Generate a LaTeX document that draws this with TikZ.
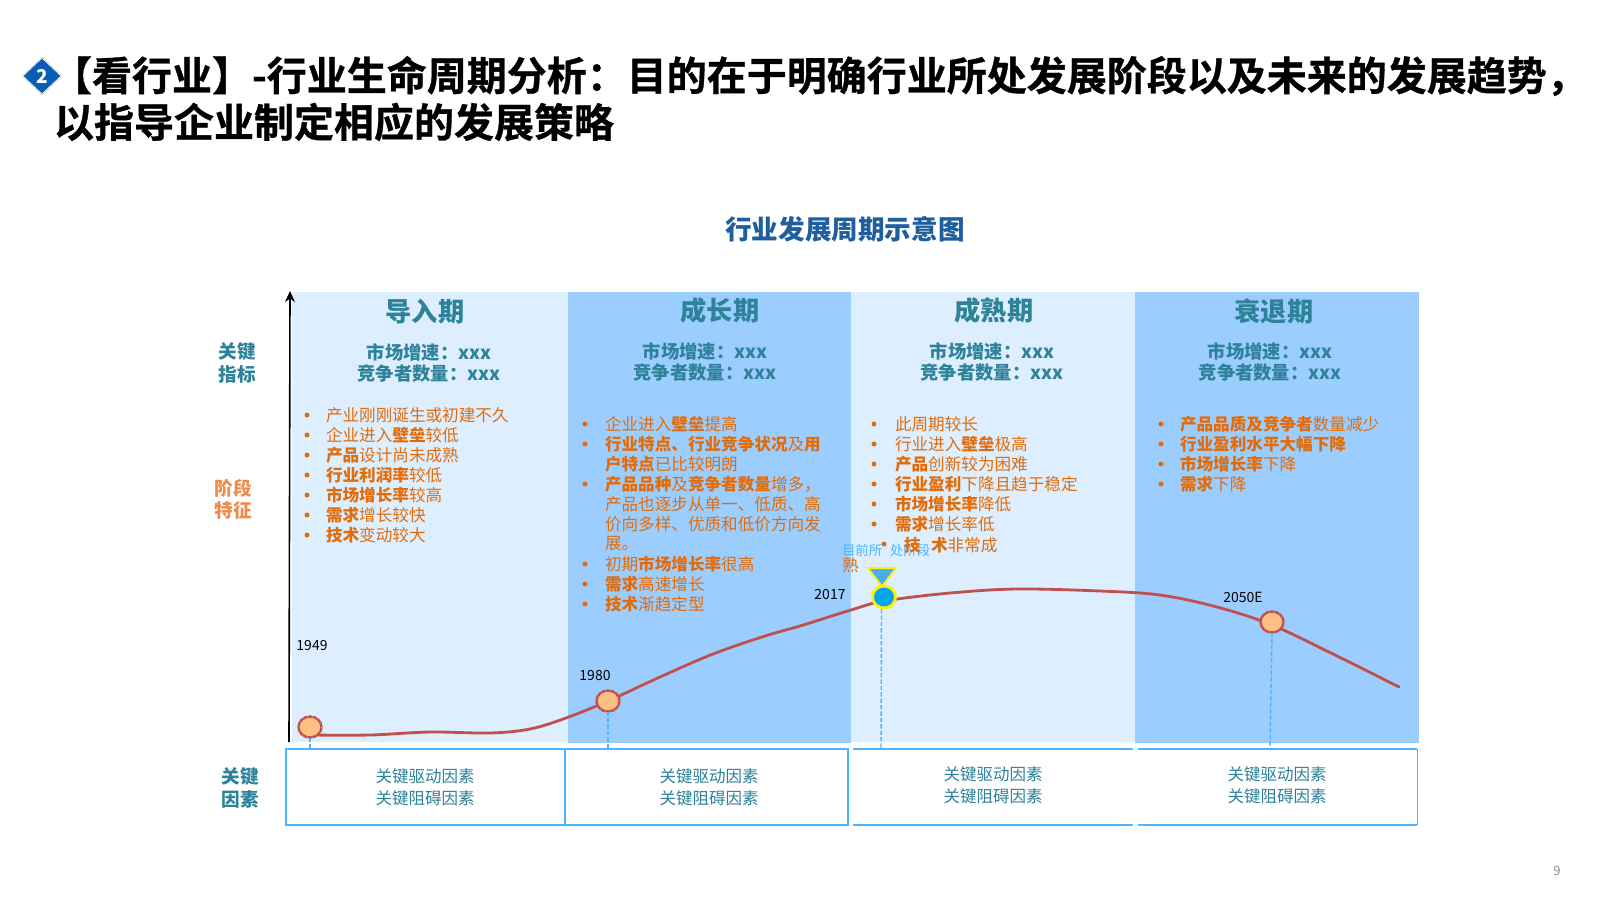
\documentclass[tikz,border=0pt]{standalone}
\usepackage{fontspec}
\setmainfont{Noto Sans CJK SC}
\newfontfamily\titlefont[FakeBold=0.8]{Noto Sans CJK SC Bold}
\usetikzlibrary{arrows.meta,shapes.geometric}
\definecolor{lightcol}{HTML}{DDEEFF}
\definecolor{darkcol}{HTML}{9BCDFF}
\definecolor{tealc}{HTML}{2E8299}
\definecolor{orangec}{HTML}{E36C0A}
\definecolor{labelor}{HTML}{F08A4B}
\definecolor{headblue}{HTML}{1F5F9E}
\definecolor{dmblue}{HTML}{0A5DB5}
\definecolor{linec}{HTML}{4DB5FF}
\definecolor{curvec}{HTML}{C0504D}
\definecolor{pt}{HTML}{FFC085}
\definecolor{nowblue}{HTML}{00A6F0}
\definecolor{triblue}{HTML}{47ADEF}
\newcommand{\hl}[1]{{\bfseries #1}}
\tikzset{
 every node/.style={inner sep=0pt,outer sep=0pt},
 ttl/.style={anchor=west,font=\titlefont\fontsize{20}{24}\selectfont,text=black},
 colhead/.style={font=\bfseries\fontsize{13.1}{15}\selectfont,text=tealc},
 metric/.style={font=\bfseries\fontsize{9.15}{11}\selectfont,text=tealc},
 sidelab/.style={font=\bfseries\fontsize{9.3}{11}\selectfont,text=tealc},
 bl/.style={anchor=west,font=\fontsize{8.3}{10}\selectfont,text=orangec},
 dot/.style={circle,fill=orangec,minimum size=2.5pt},
 boxtxt/.style={font=\fontsize{8.25}{10}\selectfont,text=tealc},
 yr/.style={font=\fontsize{7}{8}\selectfont,text=black},
 pnt/.style={ellipse,draw=curvec,line width=1.2pt,dash pattern=on 2.2pt off 0.25pt,fill=pt,minimum width=11.5pt,minimum height=10.5pt},
 frame/.style={draw=linec,line width=0.9pt},
 dropl/.style={draw=linec,line width=0.7pt,dash pattern=on 2.2pt off 1pt},
}
\begin{document}
\begin{tikzpicture}[x=0.5pt,y=-0.5pt]
\useasboundingbox[fill=white] (0,0) rectangle (1600,900);
% panels
\fill[lightcol] (292,292) rectangle (568,742);
\fill[darkcol] (568,292) rectangle (851,743);
\fill[lightcol] (851,292) rectangle (1135,742);
\fill[darkcol] (1135,292) rectangle (1419,743);
% axis
\coordinate (axb) at (289,742);
\coordinate (axt) at (290,291);
\draw[-{Stealth[length=5.5pt,width=5pt]},line width=0.8pt,black] (axb) -- (axt);
% title
\node[diamond,fill=black!25,minimum width=20pt,minimum height=19pt] (dms) at (42,76) {};
\node[diamond,fill=dmblue,draw=white,line width=0.3pt,minimum width=19pt,minimum height=18pt,text=white,font=\bfseries\fontsize{9.5}{10}\selectfont] (dm) at (42,76) {2};
\node[ttl] (t1) at (52,76) {【看行业】-行业生命周期分析：目的在于明确行业所处发展阶段以及未来的发展趋势，};
\node[ttl] (t2) at (54,122) {以指导企业制定相应的发展策略};
\node[font=\bfseries\fontsize{13.3}{16}\selectfont,text=headblue] (chart) at (845,229) {行业发展周期示意图};
% headers
\node[colhead] (h1) at (425,312) {导入期};
\node[colhead] (h2) at (720,311) {成长期};
\node[colhead] (h3) at (994,311) {成熟期};
\node[colhead] (h4) at (1274,311) {衰退期};
% metrics
\node[metric] (m11) at (429,352) {市场增速：xxx};
\node[metric] (m12) at (429,374) {竞争者数量：xxx};
\node[metric] (m21) at (705,351) {市场增速：xxx};
\node[metric] (m22) at (705,373) {竞争者数量：xxx};
\node[metric] (m31) at (992,351) {市场增速：xxx};
\node[metric] (m32) at (992,373) {竞争者数量：xxx};
\node[metric] (m41) at (1270,351) {市场增速：xxx};
\node[metric] (m42) at (1270,373) {竞争者数量：xxx};
% side labels
\node[sidelab] (s1) at (237,352) {关键};
\node[sidelab] (s2) at (237,374) {指标};
\node[sidelab,text=labelor] (s3) at (233,488) {阶段};
\node[sidelab,text=labelor] (s4) at (233,510) {特征};
\node[sidelab] (s5) at (240,777) {关键};
\node[sidelab] (s6) at (240,799) {因素};
% col 1 bullets
\foreach \y in {415,435,455,475,495,515,535} \node[dot] at (307,\y) {};
\node[bl] (a1) at (326,415) {产业刚刚诞生或初建不久};
\node[bl] (a2) at (326,435) {企业进入\hl{壁垒}较低};
\node[bl] (a3) at (326,455) {\hl{产品}设计尚未成熟};
\node[bl] (a4) at (326,475) {\hl{行业利润率}较低};
\node[bl] (a5) at (326,495) {\hl{市场增长率}较高};
\node[bl] (a6) at (326,515) {\hl{需求}增长较快};
\node[bl] (a7) at (326,535) {\hl{技术}变动较大};
% col 2 bullets
\foreach \y in {424,444,484,564,584,604} \node[dot] at (585,\y) {};
\node[bl] (b1) at (605,424) {企业进入\hl{壁垒}提高};
\node[bl] (b2) at (605,444) {\hl{行业特点、行业竞争状况}及\hl{用}};
\node[bl] (b3) at (605,464) {\hl{户特点}已比较明朗};
\node[bl] (b4) at (605,484) {\hl{产品品种}及\hl{竞争者数量}增多，};
\node[bl] (b5) at (605,504) {产品也逐步从单一、低质、高};
\node[bl] (b6) at (605,524) {价向多样、优质和低价方向发};
\node[bl] (b7) at (605,544) {展。};
\node[bl] (b8) at (605,564) {初期\hl{市场增长率}很高};
\node[bl] (b9) at (605,584) {\hl{需求}高速增长};
\node[bl] (b10) at (605,604) {\hl{技术}渐趋定型};
% col 3 bullets
\foreach \y in {424,444,464,484,504,524} \node[dot] at (874,\y) {};
\node[bl] (c1) at (895,424) {此周期较长};
\node[bl] (c2) at (895,444) {行业进入\hl{壁垒}极高};
\node[bl] (c3) at (895,464) {\hl{产品}创新较为困难};
\node[bl] (c4) at (895,484) {\hl{行业盈利}下降且趋于稳定};
\node[bl] (c5) at (895,504) {\hl{市场增长率}降低};
\node[bl] (c6) at (895,524) {\hl{需求}增长率低};
% current stage label
\node[anchor=west,font=\fontsize{6.7}{8}\selectfont,text=linec] (cur) at (842,550) {目前所};
\node[anchor=west,font=\fontsize{6.7}{8}\selectfont,text=linec] (cur2) at (890,550) {处阶段};
\node[dot] at (884,544) {};
\node[bl] (c7a) at (904,545) {\hl{技}};
\node[bl] (c7b) at (931,545) {\hl{术}非常成};
\node[bl] (c7c) at (842,565) {熟};
% col 4 bullets
\foreach \y in {424,444,464,484} \node[dot] at (1161,\y) {};
\node[bl] (d1) at (1180,424) {\hl{产品品质及竞争者}数量减少};
\node[bl] (d2) at (1180,444) {\hl{行业盈利水平大幅下降}};
\node[bl] (d3) at (1180,464) {\hl{市场增长率}下降};
\node[bl] (d4) at (1180,484) {\hl{需求}下降};
% key factor boxes
\node[minimum width=139.5pt,minimum height=38pt,anchor=north west] (k1) at (286,749) {};
\node[minimum width=141.5pt,minimum height=38pt,anchor=north west] (k2) at (565,749) {};
\node[minimum width=140pt,minimum height=38pt,anchor=north west] (k3) at (853,749) {};
\node[minimum width=139.5pt,minimum height=38pt,anchor=north west] (k4) at (1138,749) {};
\draw[frame] (k1.north west) rectangle (k1.south east);
\draw[frame] (k2.north west) rectangle (k2.south east);
\draw[frame] (k3.north west) -- (k3.north east) (k3.south west) -- (k3.south east);
\draw[frame] (k4.north west) -- (k4.north east) (k4.south west) -- (k4.south east);
\draw[draw=linec,line width=0.5pt] (k4.north east) -- (k4.south east);
\node[boxtxt] (f11) at (425,776) {关键驱动因素};
\node[boxtxt] (f12) at (425,798) {关键阻碍因素};
\node[boxtxt] (f21) at (709,776) {关键驱动因素};
\node[boxtxt] (f22) at (709,798) {关键阻碍因素};
\node[boxtxt] (f31) at (993,774) {关键驱动因素};
\node[boxtxt] (f32) at (993,796) {关键阻碍因素};
\node[boxtxt] (f41) at (1277,774) {关键驱动因素};
\node[boxtxt] (f42) at (1277,796) {关键阻碍因素};
% curve
\draw[curvec,line width=1.4pt,line cap=round] plot[smooth,tension=0.55] coordinates {(310,735) (370,735) (430,732) (490,733) (530,729) (566,718) (608,701) (660,677) (713,654) (765,636) (800,626) (851,610) (884,601) (950,593) (1017,589) (1100,591) (1160,595) (1217,607) (1272,625) (1335,655) (1399,687)};
% points
\node[pnt] (p1) at (310,727) {};
\node[pnt] (p2) at (608,701) {};
\node[pnt] (p4) at (1272,622) {};
\node[ellipse,draw=yellow,line width=1.4pt,fill=nowblue,minimum width=11.5pt,minimum height=11pt] (p3) at (884,597) {};
\node[isosceles triangle,isosceles triangle apex angle=75,shape border rotate=-90,draw=yellow,line width=0.9pt,fill=triblue,minimum height=8.5pt,minimum width=14pt] (tri) at (882,575) {};
\draw[dropl] (p1.south) -- (p1.south |- k1.north);
\draw[dropl] (p2.south) -- (p2.south |- k2.north);
\coordinate (d3t) at (881.5,609);
\coordinate (d3) at (881,749);
\draw[dropl] (d3t) -- (d3);
\coordinate (d4) at (1270,749);
\draw[dropl] (p4.south) -- (d4);
% years
\node[yr] (y1) at (312,645) {1949};
\node[yr] (y2) at (595,675) {1980};
\node[yr] (y3) at (830,594) {2017};
\node[yr] (y4) at (1243,597) {2050E};
\node[font=\fontsize{6.5}{7}\selectfont,text=black!45] (pg) at (1557,871) {9};
\end{tikzpicture}
\end{document}
